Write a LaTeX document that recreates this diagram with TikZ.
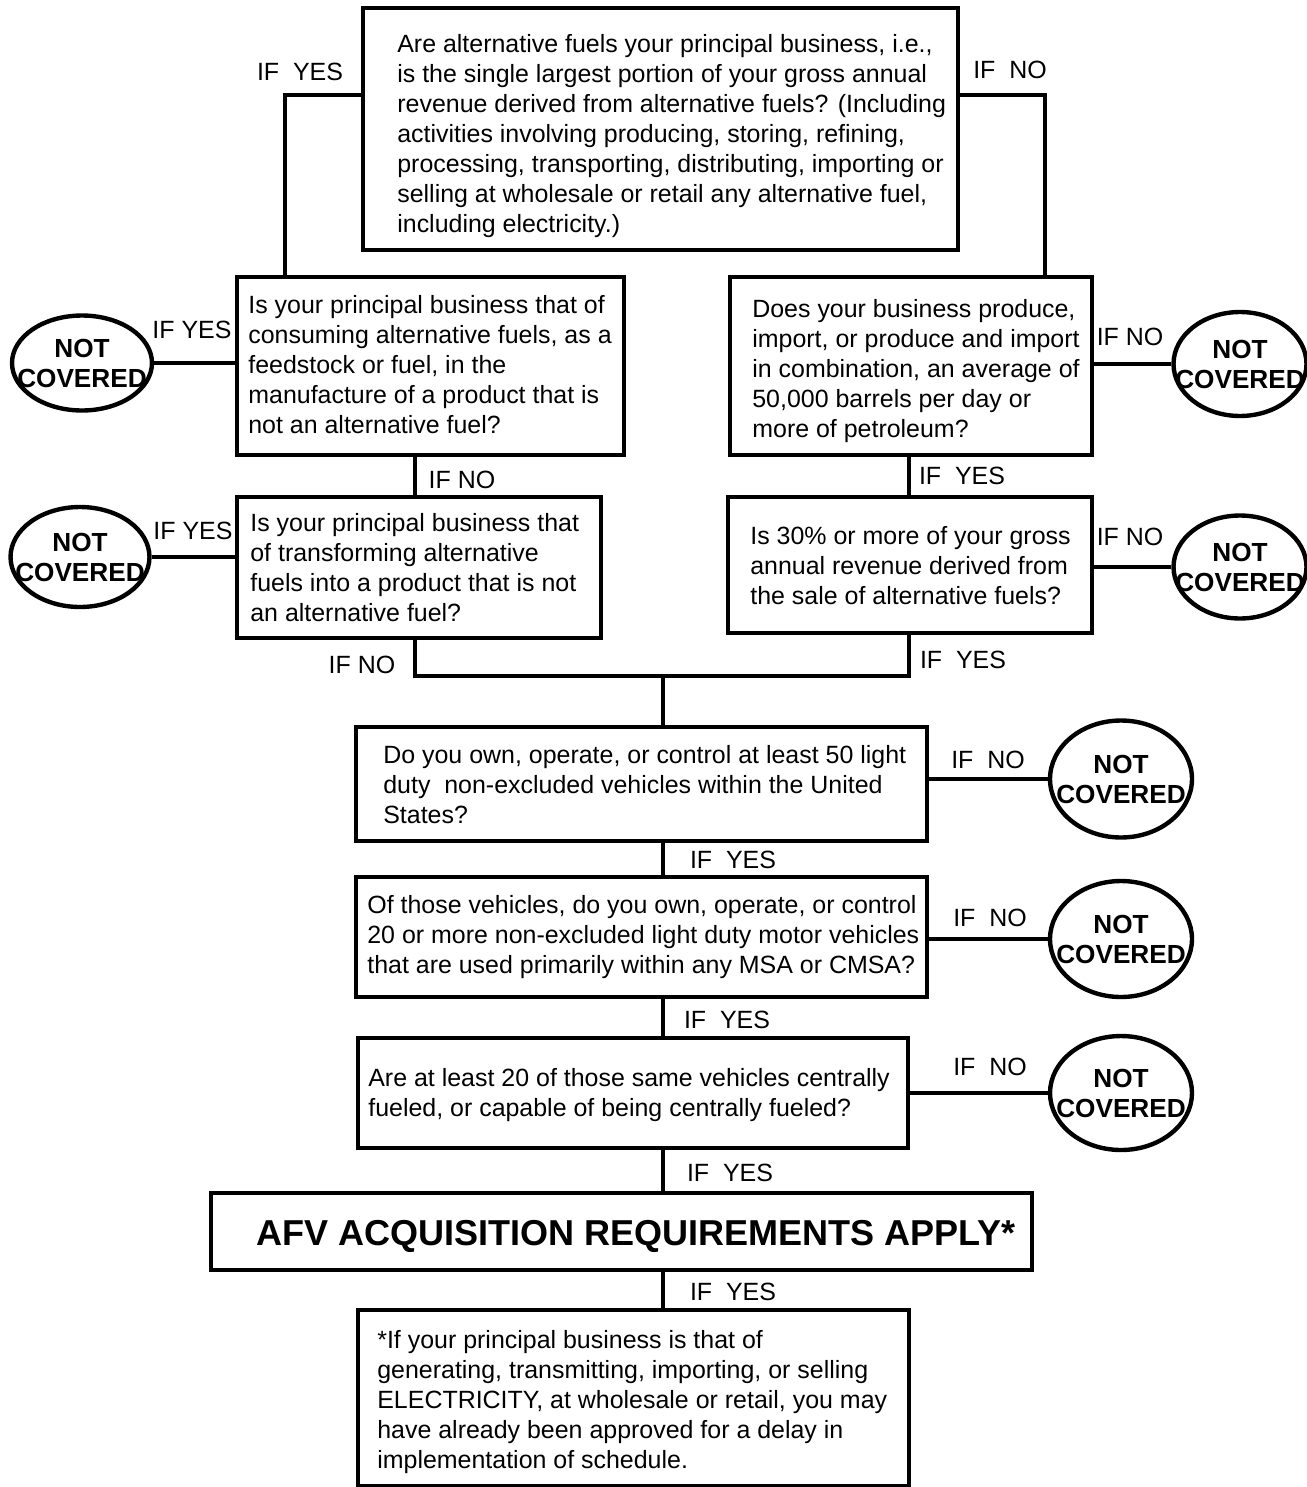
\documentclass[tikz,border=0pt]{standalone}
\usepackage{fontspec}
\setmainfont{Liberation Sans}
\usetikzlibrary{shapes.geometric,fit,calc}
\begin{document}
\begin{tikzpicture}[x=0.02cm,y=-0.02cm,
  qbox/.style={draw, line width=2.6pt, rectangle, inner sep=0pt},
  qtext/.style={anchor=north west, align=left, inner sep=0pt, font=\fontsize{14.2}{17.07}\selectfont},
  ncov/.style={draw, ellipse, line width=2.5pt, inner sep=0pt},
  nctext/.style={align=center, inner sep=0pt, font=\fontsize{14.9}{17.07}\selectfont\bfseries},
  lab/.style={inner sep=0pt, font=\fontsize{14.2}{17.07}\selectfont},
  conn/.style={line width=2.5pt}]
\useasboundingbox (0,0) rectangle (1307,1487);
\fill[white] (0,0) rectangle (1307,1487);

% boxes
\node[qbox, fit={(363,8) (958,250)}] (b0) {};
\node[qtext] (t0) at (397,34) {Are alternative fuels your principal business, i.e.,\\
is the single largest portion of your gross annual\\
revenue derived from alternative fuels? (Including\\
activities involving producing, storing, refining,\\
processing, transporting, distributing, importing or\\
selling at wholesale or retail any alternative fuel,\\
including electricity.)};

\node[qbox, fit={(237,277) (624,455)}] (b1) {};
\node[qtext] (t1) at (248,295) {Is your principal business that of\\
consuming alternative fuels, as a\\
feedstock or fuel, in the\\
manufacture of a product that is\\
not an alternative fuel?};

\node[qbox, fit={(237,497) (601,638)}] (b2) {};
\node[qtext] (t2) at (250,513) {Is your principal business that\\
of transforming alternative\\
fuels into a product that is not\\
an alternative fuel?};

\node[qbox, fit={(730,277) (1092,455)}] (b3) {};
\node[qtext] (t3) at (752,299) {Does your business produce,\\
import, or produce and import\\
in combination, an average of\\
50,000 barrels per day or\\
more of petroleum?};

\node[qbox, fit={(728,497) (1092,633)}] (b4) {};
\node[qtext] (t4) at (750,526) {Is 30\% or more of your gross\\
annual revenue derived from\\
the sale of alternative fuels?};

\node[qbox, fit={(356,727) (927,841)}] (b5) {};
\node[qtext] (t5) at (383,745) {Do you own, operate, or control at least 50 light\\
duty~ non-excluded vehicles within the United\\
States?};

\node[qbox, fit={(356,877) (927,997)}] (b6) {};
\node[qtext] (t6) at (367,895) {Of those vehicles, do you own, operate, or control\\
20 or more non-excluded light duty motor vehicles\\
that are used primarily within any MSA or CMSA?};

\node[qbox, fit={(358,1038) (908,1148)}] (b7) {};
\node[qtext] (t7) at (368,1068) {Are at least 20 of those same vehicles centrally\\
fueled, or capable of being centrally fueled?};

\node[qbox, fit={(211,1193) (1032,1270)}] (b8) {};
\node[inner sep=0pt, font=\fontsize{20.5}{24}\selectfont\bfseries] (t8) at (636,1236) {AFV ACQUISITION REQUIREMENTS APPLY*};

\node[qbox, fit={(358,1310) (909,1486)}] (b9) {};
\node[qtext] (t9) at (377,1330) {*If your principal business is that of\\
generating, transmitting, importing, or selling\\
ELECTRICITY, at wholesale or retail, you may\\
have already been approved for a delay in\\
implementation of schedule.};

% not covered ellipses
\node[ncov, minimum width=2.8cm, minimum height=1.9cm] (e1) at (82,363) {};
\node[nctext] (n1) at (e1) {NOT\\COVERED};
\node[ncov, minimum width=2.78cm, minimum height=2.0cm] (e2) at (80,557) {};
\node[nctext] (n2) at (e2) {NOT\\COVERED};
\node[ncov, minimum width=2.66cm, minimum height=2.08cm] (e3) at (1240,364) {};
\node[nctext] (n3) at (e3) {NOT\\COVERED};
\node[ncov, minimum width=2.66cm, minimum height=2.06cm] (e4) at (1240,567) {};
\node[nctext] (n4) at (e4) {NOT\\COVERED};
\node[ncov, minimum width=2.84cm, minimum height=2.34cm] (e5) at (1121,779) {};
\node[nctext] (n5) at (e5) {NOT\\COVERED};
\node[ncov, minimum width=2.84cm, minimum height=2.32cm] (e6) at (1121,939) {};
\node[nctext] (n6) at (e6) {NOT\\COVERED};
\node[ncov, minimum width=2.84cm, minimum height=2.28cm] (e7) at (1121,1093) {};
\node[nctext] (n7) at (e7) {NOT\\COVERED};

% junction coordinates
\coordinate (j0) at (285,95);
\coordinate (j1) at (1045,95);
\coordinate (jL) at (415,0);
\coordinate (jR) at (909,0);
\coordinate (jm) at (663,676);

% connectors
\draw[conn] (b0.west |- j0) -| (j0 |- b1.north);
\draw[conn] (b0.east |- j1) -| (j1 |- b3.north);
\draw[conn] (e1.east) -- (e1.east -| b1.west);
\draw[conn] (jL |- b1.south) -- (jL |- b2.north);
\draw[conn] (e2.east) -- (e2.east -| b2.west);
\draw[conn] (jR |- b3.south) -- (jR |- b4.north);
\draw[conn] (b3.east |- e3.west) -- (e3.west);
\draw[conn] (b4.east |- e4.west) -- (e4.west);
\draw[conn] (jL |- b2.south) |- (jm) -| (jR |- b4.south);
\draw[conn] (jm) -- (jm |- b5.north);
\draw[conn] (b5.east |- e5.west) -- (e5.west);
\draw[conn] (jm |- b5.south) -- (jm |- b6.north);
\draw[conn] (b6.east |- e6.west) -- (e6.west);
\draw[conn] (jm |- b6.south) -- (jm |- b7.north);
\draw[conn] (b7.east |- e7.west) -- (e7.west);
\draw[conn] (jm |- b7.south) -- (jm |- b8.north);
\draw[conn] (jm |- b8.south) -- (jm |- b9.north);

% labels
\node[lab] (l0) at (300,72) {IF~~YES};
\node[lab] (l1) at (1010,70) {IF~~NO};
\node[lab] (l2) at (192,330) {IF YES};
\node[lab] (l3) at (462,480) {IF NO};
\node[lab] (l4) at (193,531) {IF YES};
\node[lab] (l5) at (362,665) {IF NO};
\node[lab] (l6) at (1130,337) {IF NO};
\node[lab] (l7) at (962,476) {IF~~YES};
\node[lab] (l8) at (1130,537) {IF NO};
\node[lab] (l9) at (963,660) {IF~~YES};
\node[lab] (l10) at (988,760) {IF~~NO};
\node[lab] (l11) at (733,860) {IF~~YES};
\node[lab] (l12) at (990,918) {IF~~NO};
\node[lab] (l13) at (727,1020) {IF~~YES};
\node[lab] (l14) at (990,1067) {IF~~NO};
\node[lab] (l15) at (730,1173) {IF~~YES};
\node[lab] (l16) at (733,1292) {IF~~YES};
\end{tikzpicture}
\end{document}
